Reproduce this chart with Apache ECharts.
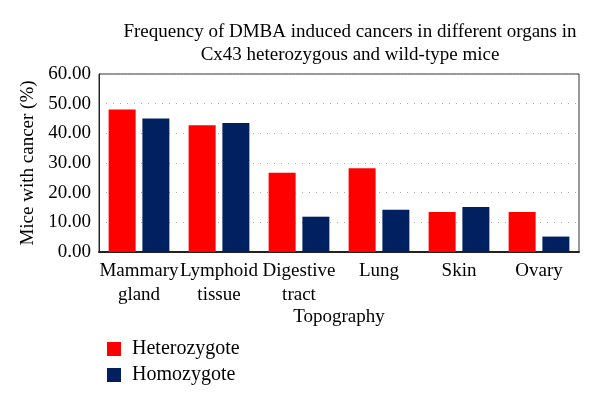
<!DOCTYPE html>
<html><head><meta charset="utf-8">
<script src="https://cdn.jsdelivr.net/npm/echarts@6/dist/echarts.min.js"></script>
<style>html,body{margin:0;padding:0;background:#fff}#c{width:600px;height:405px}</style>
</head><body><div id="c"></div>
<script>
const categories = ['Mammary\ngland', 'Lymphoid\ntissue', 'Digestive\ntract', 'Lung', 'Skin', 'Ovary'];
const heterozygote = [48.0, 42.7, 26.7, 28.2, 13.5, 13.5];
const homozygote = [45.0, 43.5, 11.9, 14.2, 15.2, 5.2];
const seriesNames = ['Heterozygote', 'Homozygote'];
const font = 'Liberation Serif';
const chart = echarts.init(document.getElementById('c'));
chart.setOption({
  animation: false,
  textStyle: { fontFamily: font, color: '#000' },
  title: {
    text: 'Frequency of DMBA induced cancers in different organs in\nCx43 heterozygous and wild-type mice',
    left: 345, top: 16, textAlign: 'center',
    textStyle: { fontFamily: font, fontSize: 19, fontWeight: 'normal', color: '#000', lineHeight: 23 }
  },
  legend: {
    orient: 'vertical', left: 102, top: 334, itemWidth: 14, itemHeight: 14, itemGap: 6,
    icon: 'rect',
    textStyle: { fontFamily: font, fontSize: 20, color: '#000', padding: [0, 0, 0, 6] },
    data: seriesNames
  },
  grid: { left: 99, top: 74, right: 21, bottom: 153, show: true, borderColor: '#333', borderWidth: 1 },
  xAxis: {
    type: 'category', data: categories,
    name: 'Topography', nameLocation: 'middle', nameGap: 47,
    nameTextStyle: { fontFamily: font, fontSize: 19, color: '#000' },
    axisLine: { lineStyle: { color: '#222', width: 2 } },
    axisTick: { show: false },
    axisLabel: { fontFamily: font, fontSize: 19, color: '#000', lineHeight: 24, margin: 7, interval: 0 }
  },
  yAxis: {
    type: 'value', min: 0, max: 60, interval: 10,
    name: 'Mice with cancer (%)', nameLocation: 'middle', nameGap: 52,
    nameTextStyle: { fontFamily: font, fontSize: 19, color: '#000' },
    axisLine: { show: true, lineStyle: { color: '#222' } },
    axisTick: { show: false },
    axisLabel: { fontFamily: font, fontSize: 19, color: '#000', margin: 8, formatter: v => v.toFixed(2) },
    splitLine: { show: true, lineStyle: { color: '#aaa', type: [1, 6], width: 1 } }
  },
  series: [
    { name: seriesNames[0], type: 'bar', data: heterozygote, barWidth: 27, barGap: '25%', itemStyle: { color: '#ff0000' } },
    { name: seriesNames[1], type: 'bar', data: homozygote, barWidth: 27, itemStyle: { color: '#002060' } }
  ]
});
</script></body></html>
